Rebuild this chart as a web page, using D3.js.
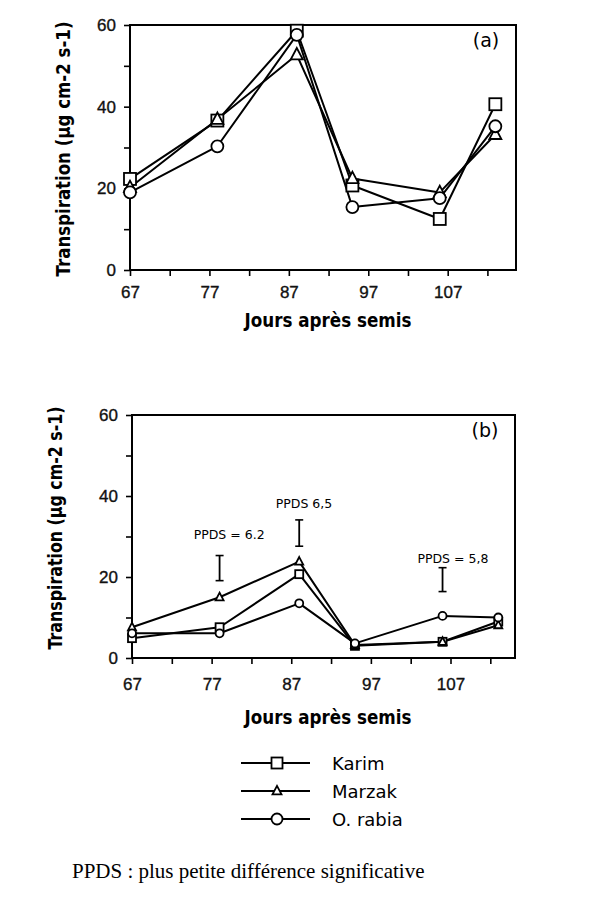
<!DOCTYPE html>
<html>
<head>
<meta charset="utf-8">
<script src="https://cdn.jsdelivr.net/npm/d3@7"></script>
<style>
  body { margin: 0; background: #fff; }
  svg { display: block; }
</style>
</head>
<body>
<script>
// Days after sowing (x values)
let days = [67, 78, 88, 95, 106, 113];

// (a) transpiration
let karimA = [22.3, 36.6, 58.6, 20.7, 12.5, 40.6];
let marzakA = [20.2, 36.9, 52.7, 22.4, 19.0, 33.2];
let rabiaA = [19.0, 30.3, 57.6, 15.4, 17.6, 35.2];

// (b) transpiration
let karimB = [4.9, 7.6, 20.7, 3.0, 4.0, 9.0];
let marzakB = [7.6, 15.0, 23.8, 3.2, 4.0, 8.1];
let rabiaB = [6.1, 6.1, 13.5, 3.6, 10.4, 10.0];

// PPDS bars in (b): day, low, high, label and where the label sits (day, value)
let ppdsLabels = ["PPDS = 6.2", "PPDS 6,5", "PPDS = 5,8"];
let ppdsDays = [78, 88, 106];
let ppdsLow = [19.1, 27.6, 16.4];
let ppdsHigh = [25.3, 34.1, 22.3];
let ppdsLabelDay = [79.2, 88.6, 107.3];
let ppdsLabelValue = [30.6, 38.2, 24.6];

let yTicks = [0, 10, 20, 30, 40, 50, 60];
let xTicks = [67, 72, 77, 82, 87, 92, 97, 102, 107, 112];

let seriesNames = ["Karim", "Marzak", "O. rabia"];
let seriesShapes = ["square", "triangle", "circle"];

let svgWidth = 598;
let svgHeight = 908;

let svg = d3.select("body")
  .append("svg")
  .attr("width", svgWidth)
  .attr("height", svgHeight);

let titleFont = "'DejaVu Sans', sans-serif";
let tickFont = "'Liberation Sans', Arial, sans-serif";

function drawMarker(g, shape, x, y, s) {
  if (shape === "square") {
    g.append("rect")
      .attr("x", x - s / 2).attr("y", y - s / 2)
      .attr("width", s).attr("height", s)
      .attr("fill", "#fff").attr("stroke", "#000").attr("stroke-width", 1.8);
  } else if (shape === "circle") {
    g.append("circle")
      .attr("cx", x).attr("cy", y).attr("r", s / 2)
      .attr("fill", "#fff").attr("stroke", "#000").attr("stroke-width", 1.8);
  } else {
    let h = s * 0.95;
    g.append("path")
      .attr("d", `M${x},${y - h * 0.6} L${x + s / 2},${y + h * 0.4} L${x - s / 2},${y + h * 0.4} Z`)
      .attr("fill", "#fff").attr("stroke", "#000").attr("stroke-width", 1.8);
  }
}

function drawPanel(opt) {
  let x = d3.scaleLinear().domain([67, opt.xMax]).range([opt.left, opt.right]);
  let y = d3.scaleLinear().domain([0, 60]).range([opt.bottom, opt.top]);

  let g = svg.append("g");

  // frame
  g.append("rect")
    .attr("x", opt.left).attr("y", opt.top)
    .attr("width", opt.right - opt.left).attr("height", opt.bottom - opt.top)
    .attr("fill", "none").attr("stroke", "#000").attr("stroke-width", 2);

  let leftAxis = d3.axisLeft(y)
    .tickValues(yTicks)
    .tickSize(6)
    .tickPadding(8)
    .tickFormat(d => d % 20 === 0 ? d : "");
  let bottomAxis = d3.axisBottom(x)
    .tickValues(xTicks)
    .tickSize(6)
    .tickPadding(opt.xPad)
    .tickFormat(d => (d - 67) % 10 === 0 ? d : "");

  let ya = g.append("g").attr("transform", `translate(${opt.left},0)`).call(leftAxis);
  let xa = g.append("g").attr("transform", `translate(0,${opt.bottom})`).call(bottomAxis);
  [ya, xa].forEach(a => {
    a.select(".domain").remove();
    a.selectAll("line").attr("stroke", "#000").attr("stroke-width", 1.6);
    a.selectAll("text")
      .attr("fill", "#111")
      .attr("stroke", "#111")
      .attr("stroke-width", 0.35)
      .style("font-family", tickFont)
      .style("font-size", "17px");
  });

  // series
  let seriesData = opt.series;
  let line = d3.line()
    .x((d, i) => x(days[i]))
    .y(d => y(d));

  seriesData.forEach(vals => {
    g.append("path")
      .attr("d", line(vals))
      .attr("fill", "none")
      .attr("stroke", "#000")
      .attr("stroke-width", 2)
      .attr("stroke-linejoin", "round");
  });
  seriesData.forEach((vals, k) => {
    vals.forEach((v, i) => drawMarker(g, seriesShapes[k], x(days[i]), y(v), opt.marker));
  });

  // panel letter
  g.append("text")
    .attr("x", opt.right - 30).attr("y", opt.top + 22)
    .attr("text-anchor", "middle")
    .style("font-family", titleFont)
    .style("font-size", "19px")
    .text(opt.letter);

  // axis titles
  g.append("text")
    .attr("x", 328).attr("y", opt.xTitleY)
    .attr("text-anchor", "middle")
    .attr("textLength", 167).attr("lengthAdjust", "spacingAndGlyphs")
    .style("font-family", titleFont)
    .style("font-weight", "bold")
    .style("font-size", "19px")
    .text("Jours après semis");

  // rotated title: small font stretched across the line so the natural width fits
  g.append("text")
    .attr("transform", `translate(${opt.yTitleX},${opt.yTitleY}) rotate(-90) scale(1,1.3)`)
    .attr("text-anchor", "middle")
    .attr("dominant-baseline", "central")
    .attr("textLength", opt.yTitleLen).attr("lengthAdjust", "spacingAndGlyphs")
    .style("font-family", titleFont)
    .style("font-weight", "bold")
    .style("font-size", "14.5px")
    .text("Transpiration (µg cm-2 s-1)");

  return { g, x, y };
}

drawPanel({
  left: 130, right: 516, top: 25, bottom: 270, xMax: 115.6,
  xPad: 10, marker: 12, letter: "(a)",
  series: [karimA, marzakA, rabiaA],
  xTitleY: 327, yTitleX: 63, yTitleY: 149, yTitleLen: 255
});

let pb = drawPanel({
  left: 132, right: 515, top: 415, bottom: 658, xMax: 115.1,
  xPad: 14, marker: 8, letter: "(b)",
  series: [karimB, marzakB, rabiaB],
  xTitleY: 724, yTitleX: 55, yTitleY: 528, yTitleLen: 243
});

// PPDS bars
ppdsDays.forEach((d, i) => {
  let bx = pb.x(d);
  let y1 = pb.y(ppdsLow[i]);
  let y2 = pb.y(ppdsHigh[i]);
  pb.g.append("line")
    .attr("x1", bx).attr("x2", bx).attr("y1", y1).attr("y2", y2)
    .attr("stroke", "#000").attr("stroke-width", 1.8);
  [y1, y2].forEach(yy => {
    pb.g.append("line")
      .attr("x1", bx - 4).attr("x2", bx + 4).attr("y1", yy).attr("y2", yy)
      .attr("stroke", "#000").attr("stroke-width", 1.6);
  });
  pb.g.append("text")
    .attr("x", pb.x(ppdsLabelDay[i]))
    .attr("y", pb.y(ppdsLabelValue[i]))
    .attr("text-anchor", "middle")
    .attr("dominant-baseline", "central")
    .style("font-family", titleFont)
    .style("font-size", "12.5px")
    .text(ppdsLabels[i]);
});

// legend
let legend = svg.append("g");
let legendY = [763, 791, 819];
seriesNames.forEach((name, k) => {
  let ly = legendY[k];
  legend.append("line")
    .attr("x1", 241).attr("x2", 310).attr("y1", ly).attr("y2", ly)
    .attr("stroke", "#000").attr("stroke-width", 2);
  drawMarker(legend, seriesShapes[k], 277, ly, k === 1 ? 9 : 11);
  legend.append("text")
    .attr("x", 332).attr("y", ly)
    .attr("dominant-baseline", "central")
    .style("font-family", titleFont)
    .style("font-size", "18px")
    .text(name);
});

// footnote
svg.append("text")
  .attr("x", 72).attr("y", 878)
  .style("font-family", "'Liberation Serif', 'Times New Roman', serif")
  .style("font-size", "21px")
  .text("PPDS : plus petite différence significative");
</script>
</body>
</html>
